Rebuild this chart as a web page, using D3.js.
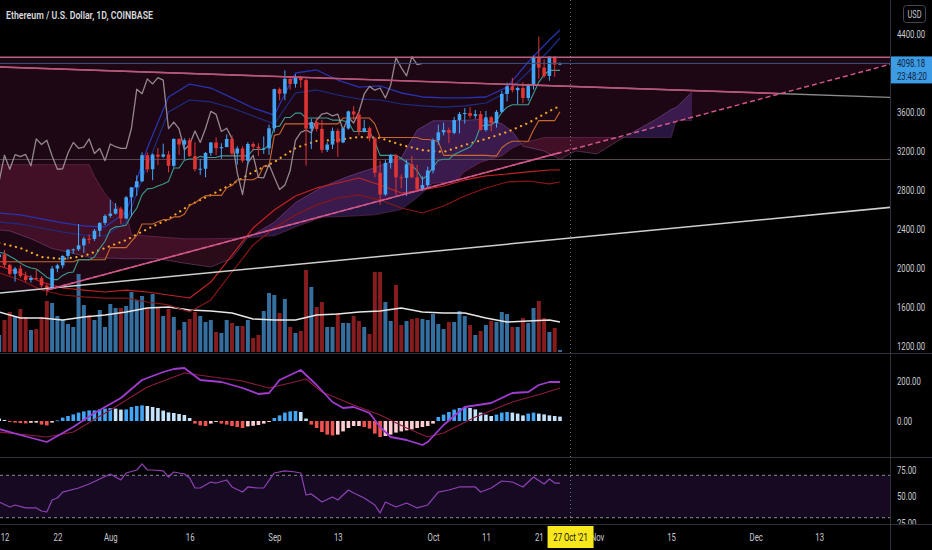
<!DOCTYPE html>
<html>
<head>
<meta charset="utf-8">
<script src="https://cdn.jsdelivr.net/npm/d3@7"></script>
<style>
  html, body { margin: 0; background: #000; }
  svg { display: block; }
</style>
</head>
<body>
<div id="chart"></div>
<script>
// ---- daily candles, Jul 11 .. Oct 25 2021 (ETH/USD, Coinbase, 1D) ----
const firstDay = "2021-07-11";
const lastDay = "2021-10-25";

const opens = [2111,2139,2032,1940,1994,1917,1877,1898,1895,1820,1786,1994,2027,2124,2188,2191,2232,2300,2298,2382,2462,
  2535,2557,2608,2508,2725,2827,2890,3157,3013,3163,3142,3165,3048,3324,3266,3310,3148,3013,3018,3180,3288,3228,3240,3324,3174,3226,3101,3272,3244,3226,3228,
  3433,3834,3788,3940,3888,3953,3927,3429,3497,3427,3212,3266,3406,3288,3431,3606,3575,3400,3434,3330,2976,2754,3078,3156,2930,2925,3064,2930,2805,2850,
  3000,3308,3391,3415,3386,3517,3579,3590,3560,3578,3415,3545,3487,3602,3785,3863,3824,3846,3744,3875,4157,4055,3970,4168,4087];
const highs = [2160,2185,2044,2010,2030,1962,1925,1985,1913,1835,2020,2044,2130,2190,2200,2450,2320,2345,2400,2470,2550,
  2700,2666,2630,2740,2830,2950,3185,3185,3175,3230,3275,3200,3330,3330,3330,3335,3290,3120,3190,3290,3340,3280,3370,3360,3250,3250,3290,3290,3280,3350,3470,
  3840,3850,4027,3970,3985,3970,3945,3530,3540,3520,3290,3440,3430,3440,3615,3660,3600,3520,3450,3345,3100,3110,3170,3170,2960,3110,3150,3060,2940,3040,
  3330,3470,3490,3440,3550,3600,3640,3650,3620,3610,3610,3560,3620,3815,3900,3950,3860,3905,3890,4180,4375,4140,4170,4170,4110];
const lows = [2085,2005,1925,1860,1897,1855,1850,1875,1800,1718,1775,1955,1998,2085,2145,2175,2155,2248,2276,2322,2440,
  2515,2550,2450,2500,2530,2740,2880,2980,2900,3055,3130,2980,3030,3160,3115,3140,2990,2955,2930,3150,3160,3120,3240,3150,3060,3080,3060,3200,3150,3170,3160,
  3390,3720,3720,3830,3850,3850,3050,3220,3400,3180,3190,3220,3140,3280,3420,3520,3360,3390,3300,2930,2650,2740,3020,2750,2820,2740,2920,2780,2790,2830,
  2970,3265,3360,3280,3370,3380,3480,3535,3530,3410,3400,3400,3440,3590,3710,3800,3680,3690,3715,3830,3940,3950,3920,3960,4080];
const closes = [2139,2032,1940,1994,1917,1877,1898,1895,1820,1786,1994,2027,2124,2188,2191,2232,2300,2298,2382,2462,2535,
  2557,2608,2508,2725,2827,2890,3157,3013,3163,3142,3165,3048,3324,3266,3310,3148,3013,3018,3180,3288,3228,3240,3324,3174,3226,3101,3272,3244,3226,3228,3433,
  3834,3788,3940,3888,3953,3927,3429,3497,3427,3212,3266,3406,3288,3431,3606,3575,3400,3434,3330,2976,2754,3078,3156,2930,2925,3064,2930,2805,2850,3000,
  3308,3391,3415,3386,3517,3579,3590,3560,3578,3415,3545,3487,3602,3785,3863,3824,3846,3744,3875,4157,4055,3970,4168,4087,4098.18];
// volume, thousand ETH
const volumes = [170,320,400,350,430,350,220,230,350,510,490,360,320,280,250,780,470,370,320,420,250,
  480,440,440,460,600,520,560,440,580,440,360,430,350,220,300,330,400,360,300,320,200,190,320,290,260,260,320,140,170,410,590,
  570,390,530,250,190,210,820,650,450,500,250,250,390,290,290,360,310,250,180,800,800,500,310,670,270,310,330,340,330,320,
  380,280,230,300,300,410,360,270,170,210,270,310,300,400,380,250,250,340,290,440,510,340,200,240,20];
// Ichimoku conversion / base lines (daily)
const tenkan = [2160,2150,2120,2090,2050,2020,2000,1990,1950,1905,1881,1881,1924,1952,1959,2084,2084,2084,2112,2202,2274,
  2392,2422,2428,2440,2539,2613,2753,2812,2818,2840,2862,2888,3025,3025,3105,3118,3118,3145,3133,3133,3135,3150,3150,3150,3150,3150,3150,3215,3215,3215,3265,
  3450,3455,3543,3543,3588,3588,3538,3538,3538,3538,3538,3517,3517,3510,3497,3400,3400,3400,3400,3295,3155,3155,3155,3155,3125,3085,3050,2998,2910,2955,
  3035,3105,3115,3115,3165,3190,3215,3240,3310,3457,3465,3465,3510,3597,3650,3675,3675,3675,3675,3790,3907,3982,4027,4027,4027];
const kijun = [2064,2064,2064,2064,2064,2064,2064,2064,2064,2064,2064,2064,2064,2064,2064,2084,2084,2084,2084,2084,2084,
  2209,2209,2209,2209,2274,2334,2451,2451,2451,2474,2496,2496,2524,2524,2552,2645,2666,2710,2740,2745,2745,2745,2823,2846,2905,2905,2905,2905,2935,3045,3045,
  3360,3375,3478,3478,3478,3478,3478,3478,3478,3478,3478,3478,3478,3538,3538,3538,3538,3538,3538,3478,3338,3338,3338,3338,3338,3338,3338,3338,3318,3318,
  3310,3297,3155,3155,3155,3155,3155,3155,3155,3155,3155,3150,3150,3233,3275,3300,3300,3300,3300,3415,3512,3512,3512,3512,3602];
// MACD histogram (daily)
const macdHist = [12,5,-5,-8,-10,-12,-9,-8,-18,-22,-8,3,
  17,25,33,42,48,53,53,58,62,65,62,57,58,70,75,78,75,70,65,52,43,40,35,30,15,
  -13,-22,-25,-13,-5,-13,-18,-25,-30,-35,-27,-24,-20,-13,-5,
  15,28,42,48,50,45,12,
  -18,-35,-55,-68,-72,-68,-52,-35,-25,-25,-30,-38,-63,-80,-75,-68,-58,-52,-47,-42,-35,-30,-25,-13,
  20,32,45,57,65,70,65,58,42,32,25,32,42,45,42,37,28,37,42,37,33,28,25,22];

// ---- band / overlay lines, sampled every 4 days ----
const bandDates = ["2021-07-11","2021-07-15","2021-07-19","2021-07-23","2021-07-27","2021-07-31","2021-08-04","2021-08-08",
  "2021-08-12","2021-08-16","2021-08-20","2021-08-24","2021-08-28","2021-09-01","2021-09-05","2021-09-09","2021-09-13",
  "2021-09-17","2021-09-21","2021-09-25","2021-09-29","2021-10-03","2021-10-07","2021-10-11","2021-10-15","2021-10-19",
  "2021-10-23","2021-10-25"];
const basisLine = [2256,2205,2113,2092,2123,2205,2287,2400,2503,2646,2749,2862,2985,3087,3231,3303,3313,3344,3333,3262,3210,3190,3262,3323,3395,3487,3610,3662];
const upperOuter = [2564,2544,2503,2462,2431,2421,2574,3231,3754,3887,3846,3744,3641,3569,4000,4031,3928,3856,3867,3795,3754,3744,3744,3754,3856,4113,4338,4441];
const upperInner = [2472,2451,2410,2369,2338,2328,2472,3056,3600,3723,3703,3641,3559,3477,3795,3826,3774,3733,3723,3682,3662,3651,3662,3692,3805,4010,4236,4359];
const lowerInner = [2021,1949,1856,1795,1774,1754,1774,1754,1723,1692,1856,2133,2410,2595,2738,2821,2872,2923,2851,2769,2800,2841,2903,2944,2964,2985,3005,3005];
const lowerOuter = [1949,1877,1774,1723,1703,1692,1692,1651,1621,1549,1672,1959,2236,2410,2544,2646,2718,2749,2697,2615,2564,2636,2738,2821,2882,2892,2862,2882];
const volumeMA = [400,340,340,320,350,370,400,440,450,420,410,390,330,320,320,370,380,400,410,440,400,390,390,340,300,310,320,300];

// ---- Ichimoku cloud (leading spans, plotted 26 days ahead) ----
const cloudDates = ["2021-07-09","2021-07-13","2021-07-17","2021-07-21","2021-07-25","2021-07-28","2021-07-29","2021-07-31",
  "2021-08-02","2021-08-04","2021-08-05","2021-08-10","2021-08-15","2021-08-20","2021-08-24","2021-08-27","2021-09-01",
  "2021-09-05","2021-09-10","2021-09-15","2021-09-20","2021-09-25","2021-09-28","2021-10-01","2021-10-05","2021-10-07",
  "2021-10-10","2021-10-14","2021-10-16","2021-10-18","2021-10-22","2021-10-25","2021-10-28","2021-11-01","2021-11-05",
  "2021-11-08","2021-11-12","2021-11-15","2021-11-16","2021-11-19"];
const spanA = [2400,2380,2300,2200,2150,2110,2105,2100,2100,2095,2095,2095,2050,2010,2100,2310,2470,2670,2830,2940,
  3030,3130,3415,3510,3510,3515,3525,3480,3400,3250,3200,3115,3200,3170,3305,3400,3520,3625,3650,3805];
const spanB = [3060,3060,3060,3060,3060,3060,2940,2760,2640,2560,2340,2320,2300,2300,2305,2310,2330,2420,2520,2530,
  2545,2600,2720,2870,2875,2990,3085,3150,3230,3280,3338,3338,3338,3338,3338,3338,3338,3338,3512,3512];
const laggingShift = 26;

// ---- MACD and RSI lines ----
const macdDates = ["2021-07-11","2021-07-15","2021-07-20","2021-07-25","2021-07-29","2021-08-03","2021-08-07","2021-08-11",
  "2021-08-13","2021-08-15","2021-08-18","2021-08-22","2021-08-26","2021-08-29","2021-08-31","2021-09-02","2021-09-06",
  "2021-09-09","2021-09-12","2021-09-14","2021-09-16","2021-09-19","2021-09-21","2021-09-23","2021-09-26","2021-09-29",
  "2021-09-30","2021-10-03","2021-10-07","2021-10-12","2021-10-16","2021-10-19","2021-10-21","2021-10-23","2021-10-25"];
const macdLine = [-40,-70,-105,-30,40,115,205,245,260,265,205,195,165,135,140,205,255,180,95,65,70,40,-30,-80,-95,-120,-105,-20,70,90,140,145,180,195,195];
const signalDates = ["2021-07-11","2021-07-20","2021-07-25","2021-08-01","2021-08-08","2021-08-15","2021-08-19","2021-08-26",
  "2021-08-31","2021-09-04","2021-09-07","2021-09-10","2021-09-16","2021-09-21","2021-09-26","2021-09-30","2021-10-03",
  "2021-10-09","2021-10-16","2021-10-22","2021-10-25"];
const signalLine = [-55,-80,-55,55,170,240,225,200,165,190,210,145,80,30,-35,-80,-60,20,95,140,165];
const rsiDates = ["2021-07-11","2021-07-13","2021-07-14","2021-07-16","2021-07-18","2021-07-19","2021-07-20","2021-07-21",
  "2021-07-22","2021-07-23","2021-07-26","2021-07-28","2021-07-30","2021-08-01","2021-08-03","2021-08-04","2021-08-06",
  "2021-08-07","2021-08-08","2021-08-09","2021-08-11","2021-08-12","2021-08-13","2021-08-15","2021-08-16","2021-08-17",
  "2021-08-18","2021-08-20","2021-08-21","2021-08-23","2021-08-24","2021-08-26","2021-08-27","2021-08-29","2021-08-30",
  "2021-09-01","2021-09-03","2021-09-05","2021-09-06","2021-09-07","2021-09-08","2021-09-10","2021-09-12","2021-09-13",
  "2021-09-15","2021-09-16","2021-09-18","2021-09-20","2021-09-21","2021-09-22","2021-09-24","2021-09-26","2021-09-28",
  "2021-09-30","2021-10-02","2021-10-04","2021-10-06","2021-10-09","2021-10-10","2021-10-12","2021-10-14","2021-10-16",
  "2021-10-18","2021-10-20","2021-10-22","2021-10-23","2021-10-24","2021-10-25"];
const rsiValues = [44.8,40.1,42.0,39.2,39.2,36.3,35.4,46.7,48.6,54.2,58.0,61.8,66.5,71.2,65.6,72.2,75.0,80.7,75.0,75.0,
  74.1,68.4,73.1,71.2,67.5,58.0,58.0,63.7,62.7,65.6,59.0,54.2,59.0,58.0,58.0,72.2,74.1,73.1,72.2,51.4,52.4,44.8,49.5,
  46.7,56.1,53.3,48.6,42.0,34.4,44.8,40.1,43.9,39.2,42.0,54.2,56.1,59.0,59.0,54.2,58.0,64.6,63.7,59.0,68.4,61.8,66.5,62.7,62.7];

// ---- drawings (date, price) ----
const topLevel = 4161;
const supportLevel = 3113;
const descLine = [["2021-07-11", 4062], ["2021-12-27", 3749]];
const riseLine = [["2021-07-20", 1775], ["2021-12-27", 4098]];
const longLine = [["2021-07-11", 1743], ["2021-12-27", 2625]];
const lastPrice = 4098.18;
const countdown = "23:48:20";
const crosshairDay = "2021-10-27";

// ---- ticks (4000.00 sits under the price tag, so it is not shown) ----
const priceTicks = [1200, 1600, 2000, 2400, 2800, 3200, 3600, 4400];
const macdTicks = [0, 200];
const rsiTicks = [25, 50, 75];
const rsiBands = [30, 70];
const timeTicks = ["2021-07-12","2021-07-22","2021-08-01","2021-08-16","2021-09-01","2021-09-13","2021-10-01",
  "2021-10-11","2021-10-21","2021-11-01","2021-11-15","2021-12-01","2021-12-13"];
const timeLabels = ["12","22","Aug","16","Sep","13","Oct","11","21","Nov","15","Dec","13"];

// ======================================================================
const width = 932, height = 550;
const axisX = 890;
const sx = 0.74; // narrow glyphs like the screenshot
const font = "Roboto, 'Liberation Sans', sans-serif";

const parse = d3.utcParse("%Y-%m-%d");
const days = d3.utcDay.range(parse(firstDay), d3.utcDay.offset(parse(lastDay), 1));

const x = d3.scaleUtc().domain([parse("2021-07-12"), parse("2021-12-13")]).range([4.5, 819.2]);
const y = d3.scaleLinear().domain([1200, 4400]).range([346, 34]);
const yVol = d3.scaleLinear().domain([0, 1000]).range([352, 252]);
const yMacd = d3.scaleLinear().domain([0, 200]).range([421, 381]);
const yRsi = d3.scaleLinear().domain([25, 75]).range([523, 470]);

const up = "#42a5f5", down = "#dd3434";

const svg = d3.select("#chart").append("svg")
    .attr("width", width)
    .attr("height", height)
    .attr("font-family", font);

svg.append("rect").attr("width", width).attr("height", height).attr("fill", "#000");

const defs = svg.append("defs");
defs.append("clipPath").attr("id", "pricePane")
  .append("rect").attr("x", 0).attr("y", 0).attr("width", axisX).attr("height", 353);
defs.append("clipPath").attr("id", "plotArea")
  .append("rect").attr("x", 0).attr("y", 0).attr("width", axisX).attr("height", 524);
defs.append("clipPath").attr("id", "scaleArea")
  .append("rect").attr("x", axisX).attr("y", 0).attr("width", width - axisX).attr("height", 524);

const price = svg.append("g").attr("clip-path", "url(#pricePane)");

const pts = arr => arr.map(d => [x(parse(d[0])), y(d[1])]);
const riseP = pts(riseLine);

// triangle fill between the top level and the rising trendline
price.append("path")
  .attr("d", d3.line()([
    [x(parse("2021-07-10")), y(topLevel)],
    [x(parse(riseLine[1][0])), y(topLevel)],
    riseP[1],
    riseP[0],
    [x(parse("2021-07-10")), riseP[0][1]]
  ]) + "Z")
  .attr("fill", "#1e0714");

// Ichimoku cloud
const cloud = cloudDates.map((d, i) => ({ date: parse(d), a: spanA[i], b: spanB[i] }));
defs.append("clipPath").attr("id", "aboveB").append("path")
  .attr("d", d3.area().x(d => x(d.date)).y0(-10).y1(d => y(d.b))(cloud));
defs.append("clipPath").attr("id", "belowB").append("path")
  .attr("d", d3.area().x(d => x(d.date)).y0(d => y(d.b)).y1(400)(cloud));
const between = d3.area().x(d => x(d.date)).y0(d => y(d.a)).y1(d => y(d.b));
price.append("g").attr("clip-path", "url(#aboveB)")
  .append("path").attr("d", between(cloud)).attr("fill", "rgb(120,70,200)").attr("fill-opacity", 0.32);
price.append("g").attr("clip-path", "url(#belowB)")
  .append("path").attr("d", between(cloud)).attr("fill", "rgb(190,50,110)").attr("fill-opacity", 0.22);
price.append("path").attr("d", d3.line().x(d => x(d.date)).y(d => y(d.a))(cloud))
  .attr("fill", "none").attr("stroke", "#b070c0").attr("stroke-opacity", 0.35);
price.append("path").attr("d", d3.line().x(d => x(d.date)).y(d => y(d.b))(cloud))
  .attr("fill", "none").attr("stroke", "#c0508a").attr("stroke-opacity", 0.3);

// volume
price.append("g").selectAll("rect").data(days).join("rect")
  .attr("x", d => x(d) - 2)
  .attr("width", 4)
  .attr("y", (d, i) => yVol(volumes[i]))
  .attr("height", (d, i) => yVol(0) - yVol(volumes[i]))
  .attr("fill", (d, i) => closes[i] >= opens[i] ? "#356fa0" : "#861c1e");

const band = bandDates.map(parse);
function drawSeries(g, dates, values, scale, stroke, w, extra) {
  const p = g.append("path")
    .attr("d", d3.line().x((d, i) => x(dates[i])).y((d, i) => scale(values[i]))(values))
    .attr("fill", "none")
    .attr("stroke", stroke)
    .attr("stroke-width", w)
    .attr("stroke-linejoin", "round");
  if (extra) extra(p);
  return p;
}
drawSeries(price, band, volumeMA, yVol, "#e6e6e6", 1.4);

// support level
price.append("line")
  .attr("x1", 0).attr("x2", axisX)
  .attr("y1", y(supportLevel)).attr("y2", y(supportLevel))
  .attr("stroke", "#5a4852").attr("stroke-width", 1);

// bands and moving lines
drawSeries(price, band, upperOuter, y, "#2733b0", 1.3);
drawSeries(price, band, upperInner, y, "#1c2d86", 1.2);
drawSeries(price, band, lowerInner, y, "#c42222", 1.2);
drawSeries(price, band, lowerOuter, y, "#8c1616", 1.2);
drawSeries(price, band, basisLine, y, "#f5a623", 2.2, p =>
  p.attr("stroke-dasharray", "0.1 5.6").attr("stroke-linecap", "round"));
drawSeries(price, days, kijun, y, "#c8682e", 1.1);
drawSeries(price, days, tenkan, y, "#3d9c8f", 1.1);
// lagging span: closes plotted 26 days back
drawSeries(price, days.map(d => d3.utcDay.offset(d, -laggingShift)), closes, y, "#a99ca3", 1.3,
  p => p.attr("stroke-opacity", 0.85));

// candles
const candles = days.map((d, i) => ({ date: d, o: opens[i], h: highs[i], l: lows[i], c: closes[i] }));
const cg = price.append("g");
cg.selectAll("line").data(candles).join("line")
  .attr("x1", d => x(d.date)).attr("x2", d => x(d.date))
  .attr("y1", d => y(d.h)).attr("y2", d => y(d.l))
  .attr("stroke", d => d.c >= d.o ? up : down)
  .attr("stroke-width", 1);
cg.selectAll("rect").data(candles).join("rect")
  .attr("x", d => x(d.date) - 1.8)
  .attr("width", 3.6)
  .attr("y", d => y(Math.max(d.o, d.c)))
  .attr("height", d => Math.max(1, Math.abs(y(d.o) - y(d.c))))
  .attr("fill", d => d.c >= d.o ? up : down);

// drawings on top
const line = d3.line();
price.append("line")
  .attr("x1", 0).attr("x2", axisX)
  .attr("y1", y(topLevel)).attr("y2", y(topLevel))
  .attr("stroke", "#b8607e").attr("stroke-width", 1.5);
price.append("line")
  .attr("x1", 0).attr("x2", axisX)
  .attr("y1", y(lastPrice)).attr("y2", y(lastPrice))
  .attr("stroke", "#35557e").attr("stroke-width", 1);
price.append("path").attr("d", line(pts(descLine)))
  .attr("stroke", "#8e8a8c").attr("stroke-width", 1.4).attr("fill", "none");
defs.append("clipPath").attr("id", "descPink")
  .append("rect").attr("x", 0).attr("y", 0).attr("width", x(parse("2021-12-05"))).attr("height", 353);
price.append("path").attr("d", line(pts(descLine))).attr("clip-path", "url(#descPink)")
  .attr("stroke", "#c2507a").attr("stroke-width", 1.5).attr("fill", "none");
price.append("path").attr("d", line(pts(longLine)))
  .attr("stroke", "#cfcfcf").attr("stroke-width", 1.5).attr("fill", "none");
price.append("path").attr("d", line(riseP))
  .attr("stroke", "#d0568a").attr("stroke-width", 1.5).attr("stroke-dasharray", "5 3").attr("fill", "none");
defs.append("clipPath").attr("id", "riseSolid")
  .append("rect").attr("x", 0).attr("y", 0).attr("width", x(parse(lastDay))).attr("height", 353);
price.append("path").attr("d", line(riseP)).attr("clip-path", "url(#riseSolid)")
  .attr("stroke", "#d0568a").attr("stroke-width", 1.5).attr("fill", "none");

// ---- MACD pane ----
const macdG = svg.append("g").attr("clip-path", "url(#plotArea)");
macdG.selectAll("rect").data(days).join("rect")
  .attr("x", d => x(d) - 1.8)
  .attr("width", 3.6)
  .attr("y", (d, i) => Math.min(yMacd(0), yMacd(macdHist[i])))
  .attr("height", (d, i) => Math.max(0.8, Math.abs(yMacd(macdHist[i]) - yMacd(0))))
  .attr("fill", (d, i) => {
    const v = macdHist[i], prev = i > 0 ? macdHist[i - 1] : Infinity;
    if (v >= 0) return v >= prev ? "#42a5f5" : "#c4e2fa";
    return v < prev ? "#ef5350" : "#ffcdd2";
  });
drawSeries(macdG, signalDates.map(parse), signalLine, yMacd, "#8b1c40", 1.1);
drawSeries(macdG, macdDates.map(parse), macdLine, yMacd, "#a23bd0", 1.8);

// ---- RSI pane ----
const rsiG = svg.append("g").attr("clip-path", "url(#plotArea)");
rsiG.append("rect")
  .attr("x", 0).attr("width", axisX)
  .attr("y", yRsi(rsiBands[1])).attr("height", yRsi(rsiBands[0]) - yRsi(rsiBands[1]))
  .attr("fill", "#150a22");
rsiG.selectAll("line").data(rsiBands).join("line")
  .attr("x1", 0).attr("x2", axisX)
  .attr("y1", d => yRsi(d)).attr("y2", d => yRsi(d))
  .attr("stroke", "#8a8d96").attr("stroke-dasharray", "3 3");
drawSeries(rsiG, rsiDates.map(parse), rsiValues, yRsi, "#9040b4", 1.2);

// crosshair
svg.append("line")
  .attr("x1", x(parse(crosshairDay))).attr("x2", x(parse(crosshairDay)))
  .attr("y1", 0).attr("y2", 524)
  .attr("stroke", "#9598a1").attr("stroke-opacity", 0.75).attr("stroke-dasharray", "1 3");

// separators
svg.selectAll("line.sep").data([353, 457, 524]).join("line")
  .attr("class", "sep")
  .attr("x1", 0).attr("x2", width)
  .attr("y1", d => d + 0.5).attr("y2", d => d + 0.5)
  .attr("stroke", "#2f323c");
svg.append("line")
  .attr("x1", axisX + 0.5).attr("x2", axisX + 0.5)
  .attr("y1", 0).attr("y2", height)
  .attr("stroke", "#2f323c");

// ---- axes ----
function styleAxis(g, anchorX) {
  g.select(".domain").remove();
  g.attr("font-family", font).attr("font-size", 10.5);
  g.selectAll("text")
    .attr("fill", "#c8cad0")
    .attr("x", anchorX / sx)
    .attr("transform", `scale(${sx},1)`);
}
const fmt = d3.format(".2f");
svg.append("g").attr("transform", `translate(${axisX},0)`)
  .call(d3.axisRight(y).tickValues(priceTicks).tickFormat(fmt).tickSize(0))
  .call(g => styleAxis(g, 7));
svg.append("g").attr("transform", `translate(${axisX},0)`)
  .call(d3.axisRight(yMacd).tickValues(macdTicks).tickFormat(fmt).tickSize(0))
  .call(g => styleAxis(g, 7));
svg.append("g").attr("clip-path", "url(#scaleArea)")
  .append("g").attr("transform", `translate(${axisX},0)`)
  .call(d3.axisRight(yRsi).tickValues(rsiTicks).tickFormat(fmt).tickSize(0))
  .call(g => styleAxis(g, 7));
svg.append("g").attr("transform", "translate(0,524)")
  .call(d3.axisBottom(x).tickValues(timeTicks.map(parse)).tickFormat((d, i) => timeLabels[i]).tickSize(0).tickPadding(10))
  .call(g => styleAxis(g, 0));

// last price tag
const tagY = y(lastPrice);
svg.append("rect").attr("x", axisX + 1).attr("y", tagY - 7).attr("width", width - axisX - 1).attr("height", 27)
  .attr("fill", "#3d9ce6");
function label(txt, px, py, o = {}) {
  return svg.append("text")
    .attr("transform", `translate(${px},${py}) scale(${o.sx || sx},1)`)
    .attr("dy", "0.35em")
    .attr("text-anchor", o.anchor || "start")
    .attr("font-size", o.size || 10.5)
    .attr("font-weight", o.weight || 400)
    .attr("fill", o.fill || "#c8cad0")
    .text(txt);
}
label(fmt(lastPrice), axisX + 7, tagY, { fill: "#10233a" });
label(countdown, axisX + 7, tagY + 12.5, { fill: "#10233a" });

// currency box
svg.append("rect").attr("x", 903.5).attr("y", 5.5).attr("width", 22).attr("height", 17).attr("rx", 3)
  .attr("fill", "none").attr("stroke", "#434651");
label("USD", 914.5, 14, { anchor: "middle", size: 10 });

// crosshair date tag
const cx = x(parse(crosshairDay));
svg.append("rect").attr("x", cx - 23).attr("y", 526).attr("width", 46).attr("height", 22).attr("fill", "#f8e71c");
label(d3.utcFormat("%-d %b '%y")(parse(crosshairDay)), cx, 537.5, { anchor: "middle", fill: "#111" });

// title
svg.append("text")
  .attr("x", 6).attr("y", 19)
  .attr("font-size", 11.5)
  .attr("font-weight", 600)
  .attr("fill", "#d9d9de")
  .attr("textLength", 147)
  .attr("lengthAdjust", "spacingAndGlyphs")
  .text("Ethereum / U.S. Dollar, 1D, COINBASE");
</script>
</body>
</html>
